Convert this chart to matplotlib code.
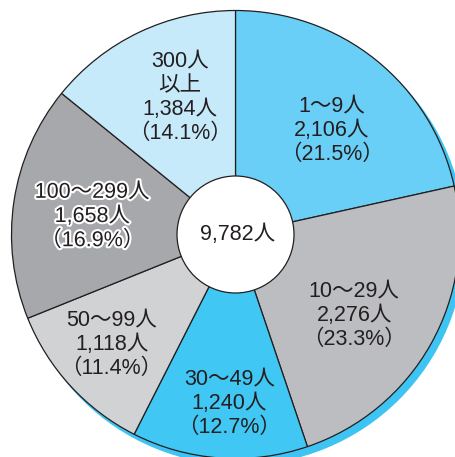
import numpy as np
import matplotlib
matplotlib.use('Agg')
import matplotlib.pyplot as plt
import matplotlib.patheffects as pe
from matplotlib.patches import Circle

plt.rcParams['font.family'] = ['Liberation Sans', 'Noto Sans CJK JP', 'DejaVu Sans']

# data
groups = ['1〜9人', '10〜29人', '30〜49人', '50〜99人', '100〜299人', '300人\n以上']
counts = [2106, 2276, 1240, 1118, 1658, 1384]
shares = ['21.5%', '23.3%', '12.7%', '11.4%', '16.9%', '14.1%']
total = '9,782人'

colors = ['#6acff6', '#bcbdc0', '#40c7f4', '#d1d2d4', '#a7a8ab', '#c6eafa']
ink = '#231f20'

fig = plt.figure(figsize=(4.56, 4.57), dpi=100)
ax = fig.add_axes([0, 0, 1, 1])

cx, cy, r = 235.5, 457 - 234.5, 224

# blue offset shadow
ax.add_patch(Circle((cx + 5, cy - 6), r, color='#3ec4f2', zorder=0))

wedges, _ = ax.pie(counts, colors=colors, startangle=90, counterclock=False,
                   center=(cx, cy), radius=r,
                   wedgeprops=dict(edgecolor=ink, linewidth=0.9))
for w in wedges:
    w.set_zorder(1)

ax.add_patch(Circle((cx, cy), 58.5, facecolor='white', edgecolor=ink,
                    linewidth=0.9, zorder=3))
ax.text(cx + 2, cy, total, ha='center', va='center', fontsize=15.5,
        color=ink, zorder=4)

# label placement (radius fraction, angle tweak in degrees)
lab_r = [0.634, 0.64, 0.753, 0.74, 0.645, 0.66]
lab_da = [-4.0, -4.8, 2.0, -0.9, 1.4, -3.4]
for i, w in enumerate(wedges):
    ang = np.deg2rad((w.theta1 + w.theta2) / 2 + lab_da[i])
    x = cx + lab_r[i] * r * np.cos(ang)
    y = cy + lab_r[i] * r * np.sin(ang)
    txt = '%s\n%s人\n（%s）' % (groups[i], format(counts[i], ','), shares[i])
    t = ax.text(x, y, txt, ha='center', va='center', fontsize=15.5,
                color=ink, linespacing=1.2, zorder=4)
    if groups[i] == '100〜299人':
        t.set_path_effects([pe.withStroke(linewidth=3, foreground='white')])

ax.set_xlim(0, 456)
ax.set_ylim(0, 457)
ax.set_aspect('equal')
ax.axis('off')

fig.savefig('out.png', dpi=100, facecolor='white')
